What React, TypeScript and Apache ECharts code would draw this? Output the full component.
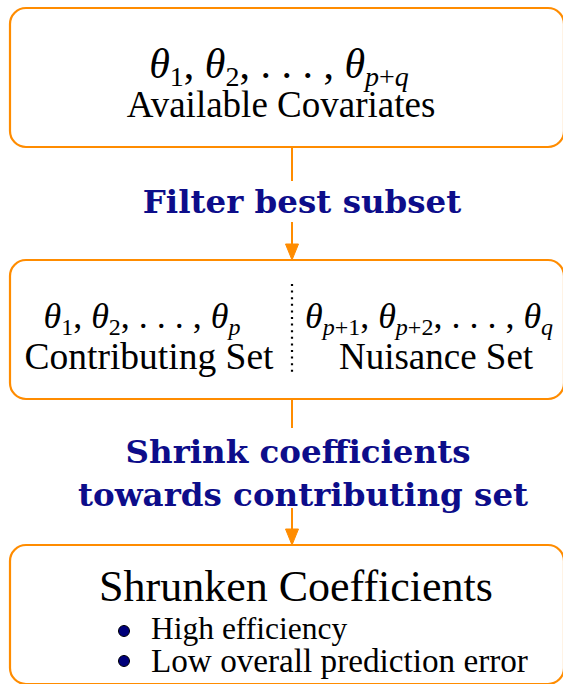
import React, { useEffect, useRef } from "react";
import * as echarts from "echarts";

// ---- content ----
type Tok = [string, string];
const topMath: Tok[] = [["t", "θ"], ["s", "1"], ["n", ", "], ["t", "θ"], ["s", "2"], ["n", ", . . . , "], ["t", "θ"], ["si", "p"], ["s", "+"], ["si", "q"]];
const contribMath: Tok[] = [["t", "θ"], ["s", "1"], ["n", ", "], ["t", "θ"], ["s", "2"], ["n", ", . . . , "], ["t", "θ"], ["si", "p"]];
const nuisanceMath: Tok[] = [["t", "θ"], ["si", "p"], ["s", "+1"], ["n", ", "], ["t", "θ"], ["si", "p"], ["s", "+2"], ["n", ", . . . , "], ["t", "θ"], ["si", "q"]];
const boxSubtitles = ["Available Covariates", "Contributing Set", "Nuisance Set"];
const stepLabels = ["Filter best subset", "Shrink coefficients", "towards contributing set"];
const resultTitle = "Shrunken Coefficients";
const resultBullets = ["High efficiency", "Low overall prediction error"];

const ORANGE = "#FF8C00";
const NAVY = "#0D0D8A";
const SERIF = "Liberation Serif";
const BOLD = "DejaVu Serif";

const rich = (toks: Tok[]) => toks.map(([k, v]) => `{${k}|${v}}`).join("");
const mathRich = (S: number, s: number) => {
  const L = Math.round(S * 1.25);
  const Ls = L - Math.round(S * 0.55);
  return {
    t: { fontFamily: SERIF, fontStyle: "italic", fontSize: S, lineHeight: L, fill: "#000" },
    n: { fontFamily: SERIF, fontSize: S, lineHeight: L, fill: "#000" },
    s: { fontFamily: SERIF, fontSize: s, lineHeight: Ls, verticalAlign: "bottom", fill: "#000" },
    si: { fontFamily: SERIF, fontStyle: "italic", fontSize: s, lineHeight: Ls, verticalAlign: "bottom", fill: "#000" },
  };
};

export default function App() {
  const ref = useRef<HTMLDivElement>(null);
  useEffect(() => {
    document.body.style.margin = "0";
    const chart = echarts.init(ref.current!, null, { renderer: "svg" });
    const box = (y: number) => ({
      type: "rect",
      shape: { x: 10, y, width: 554, height: 139, r: 16 },
      style: { fill: "#fff", stroke: ORANGE, lineWidth: 2.2 },
    });
    const vline = (y1: number, y2: number) => ({
      type: "line",
      shape: { x1: 292, y1, x2: 292, y2 },
      style: { stroke: ORANGE, lineWidth: 2 },
    });
    const head = (y: number) => ({
      type: "polygon",
      shape: { points: [[285.5, y - 16], [298.5, y - 16], [292, y]] },
      style: { fill: ORANGE, stroke: ORANGE, lineWidth: 1 },
    });
    const plain = (text: string, x: number, y: number, size: number, align = "center") => ({
      type: "text",
      x,
      y,
      style: { text, fontFamily: SERIF, fontSize: size, fill: "#000", align, verticalAlign: "middle" },
    });
    const bold = (text: string, x: number, y: number) => ({
      type: "text",
      x,
      y,
      style: { text, fontFamily: BOLD, fontWeight: "bold", fontSize: 32.5, fill: NAVY, align: "center", verticalAlign: "middle" },
    });
    const math = (toks: Tok[], x: number, y: number, S: number, s: number) => ({
      type: "text",
      x,
      y,
      style: { text: rich(toks), fontFamily: SERIF, fontSize: S, rich: mathRich(S, s), align: "center", verticalAlign: "middle" },
    });
    const bullet = (y: number) => ({
      type: "circle",
      shape: { cx: 124, cy: y, r: 5.5 },
      style: { fill: "#00007A", stroke: "#000", lineWidth: 1 },
    });

    chart.setOption({
      animation: false,
      graphic: { elements: [
        vline(147, 181), vline(222, 246), head(260),
        vline(400, 428), vline(508, 531), head(545),
        box(8), box(260), box(545),
        math(topMath, 279, 64, 42, 28),
        plain(boxSubtitles[0], 281, 104, 37),
        bold(stepLabels[0], 302, 201),
        math(contribMath, 142, 316, 36, 24),
        plain(boxSubtitles[1], 149, 356, 37.5),
        {
          type: "line",
          shape: { x1: 292, y1: 284, x2: 292, y2: 374 },
          style: { stroke: "#000", lineWidth: 2.2, lineDash: [2, 4.6] },
        },
        math(nuisanceMath, 429, 316, 36, 24),
        plain(boxSubtitles[2], 436, 356, 37),
        bold(stepLabels[1], 298, 451),
        bold(stepLabels[2], 303, 494),
        plain(resultTitle, 296, 586, 44),
        bullet(631), bullet(661),
        plain(resultBullets[0], 151, 628, 31.5, "left"),
        plain(resultBullets[1], 151, 660, 33.2, "left"),
      ] },
    });
    return () => chart.dispose();
  }, []);
  return <div ref={ref} style={{ width: 563, height: 684 }} />;
}
